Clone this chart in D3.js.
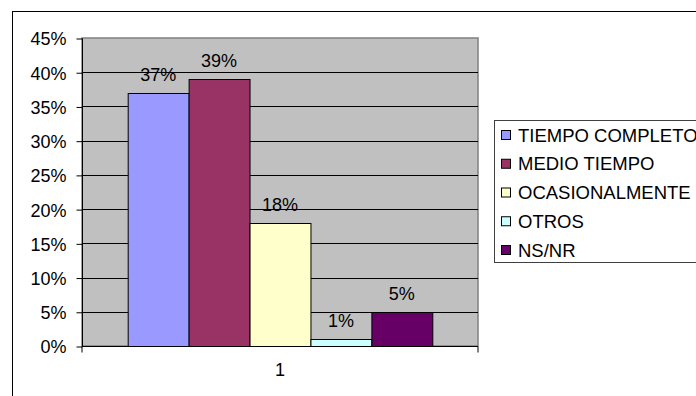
<!DOCTYPE html>
<html>
<head>
<meta charset="utf-8">
<script src="https://cdn.jsdelivr.net/npm/d3@7"></script>
<style>
  body { margin: 0; background: #fff; }
  svg text { font-family: Arial, "Liberation Sans", sans-serif; fill: #000; }
</style>
</head>
<body>
<div id="container"></div>
<script>
/* DATA */
const series = ["TIEMPO COMPLETO", "MEDIO TIEMPO", "OCASIONALMENTE", "OTROS", "NS/NR"]
const values = [37, 39, 18, 1, 5]
const colors = ["#9999FF", "#993366", "#FFFFCC", "#CCFFFF", "#660066"]
const categories = ["1"]
const yTicks = [0, 5, 10, 15, 20, 25, 30, 35, 40, 45]

/* CONSTANTS */
const width = 696,
  height = 396,
  fontSize = 18,
  plot = { left: 82, right: 478, top: 38, bottom: 346 }

const svg = d3.select("#container")
  .append("svg")
  .attr("width", width)
  .attr("height", height)

// outer chart border
svg.append("rect")
  .attr("x", 12.5).attr("y", 11.5)
  .attr("width", 720).attr("height", 420)
  .attr("fill", "#fff")
  .attr("stroke", "#000")

// SCALES
const yScale = d3.scaleLinear()
  .domain([0, 45])
  .range([plot.bottom, plot.top])

const xScale = d3.scaleBand()
  .domain(categories)
  .range([plot.left, plot.right])

// gap width 150% -> bars fill 5/(5+1.5) of band
const groupW = xScale.bandwidth() * 5 / 6.5
const xInner = d3.scaleBand()
  .domain(series)
  .range([0, groupW])

// plot background
svg.append("rect")
  .attr("x", plot.left).attr("y", plot.top)
  .attr("width", plot.right - plot.left)
  .attr("height", plot.bottom - plot.top)
  .attr("fill", "#C0C0C0")
  .attr("stroke", "#808080")
  .attr("stroke-width", 1.5)

// gridlines
svg.append("g")
  .selectAll("line")
  .data(yTicks.filter(d => d > 0 && d < 45))
  .join("line")
  .attr("x1", plot.left).attr("x2", plot.right)
  .attr("y1", d => Math.round(yScale(d)) + 0.5)
  .attr("y2", d => Math.round(yScale(d)) + 0.5)
  .attr("stroke", "#000")

// BARS
const group = svg.append("g")
  .attr("transform", `translate(${xScale("1") + (xScale.bandwidth() - groupW) / 2}, 0)`)

group.selectAll("rect")
  .data(series)
  .join("rect")
  .attr("x", d => xInner(d) + 0.5)
  .attr("y", (d, i) => Math.round(yScale(values[i])) + 0.5)
  .attr("width", xInner.bandwidth())
  .attr("height", (d, i) => Math.round(plot.bottom - yScale(values[i])))
  .attr("fill", (d, i) => colors[i])
  .attr("stroke", "#000")

// data labels
group.selectAll("text")
  .data(series)
  .join("text")
  .attr("x", d => xInner(d) + xInner.bandwidth() / 2)
  .attr("y", (d, i) => yScale(values[i]) - 12)
  .attr("text-anchor", "middle")
  .attr("font-size", fontSize)
  .text((d, i) => values[i] + "%")

// AXES
const yAxis = d3.axisLeft(yScale)
  .tickValues(yTicks)
  .tickSize(6)
  .tickPadding(10)
  .tickFormat(d => d + "%")

svg.append("g")
  .attr("transform", `translate(${plot.left + 0.5}, 0.5)`)
  .call(yAxis)
  .call(g => g.select(".domain").attr("stroke", "#000").attr("d", `M0,${plot.top}V${plot.bottom}`))
  .call(g => g.selectAll("text").attr("font-size", fontSize).attr("dy", "0.36em"))

const xAxis = d3.axisBottom(xScale)
  .tickSize(0)
  .tickPadding(17)

svg.append("g")
  .attr("transform", `translate(0, ${plot.bottom + 0.5})`)
  .call(xAxis)
  .call(g => g.select(".domain").attr("stroke", "#000")
    .attr("d", `M${plot.left},6V0H${plot.right}V6`))
  .call(g => g.selectAll("text").attr("font-size", fontSize))

// LEGEND
const legend = svg.append("g")
legend.append("rect")
  .attr("x", 494.5).attr("y", 120.5)
  .attr("width", 260).attr("height", 142)
  .attr("fill", "#fff")
  .attr("stroke", "#404040")

const item = legend.selectAll(".item")
  .data(series)
  .join("g")
  .attr("class", "item")
  .attr("transform", (d, i) => `translate(0, ${135 + i * 28.75})`)

item.append("rect")
  .attr("x", 501.5).attr("y", -4.5)
  .attr("width", 9).attr("height", 9)
  .attr("fill", (d, i) => colors[i])
  .attr("stroke", "#000")

item.append("text")
  .attr("x", 518)
  .attr("y", 0)
  .attr("dy", "0.36em")
  .attr("font-size", 18.5)
  .text(d => d)
</script>
</body>
</html>
